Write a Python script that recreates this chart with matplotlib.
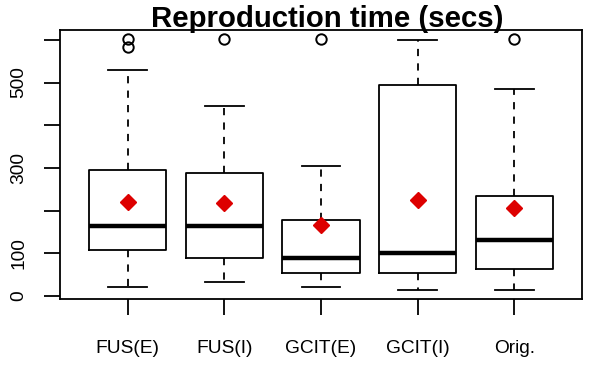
import matplotlib
matplotlib.use("Agg")
import matplotlib.pyplot as plt

plt.rcParams['font.family'] = ['Liberation Sans', 'DejaVu Sans']

categories = ["FUS(E)", "FUS(I)", "GCIT(E)", "GCIT(I)", "Orig."]
whisker_low = [22, 32, 20, 15, 15]
q1 = [108, 90, 53, 53, 63]
medians = [165, 165, 88, 100, 130]
q3 = [295, 287, 177, 495, 234]
whisker_high = [530, 444, 305, 600, 484]
means = [221, 217, 166, 224, 207]
outliers = [[601, 584], [601], [601], [], [601]]
yticks = [0, 100, 200, 300, 400, 500, 600]
ytick_labels = ["0", "100", "", "300", "", "500", ""]

stats = []
for i, name in enumerate(categories):
    stats.append(dict(label=name, whislo=whisker_low[i], q1=q1[i], med=medians[i],
                      q3=q3[i], whishi=whisker_high[i], fliers=outliers[i]))

fig = plt.figure(figsize=(6, 3.75), dpi=100)
ax = fig.add_axes([0.1, 0.2027, 0.87, 0.7173])

lw = 1.3
ax.bxp(stats, positions=range(1, 6), widths=0.8, showmeans=False,
       patch_artist=False,
       boxprops=dict(color='black', linewidth=lw),
       whiskerprops=dict(color='black', linewidth=lw, linestyle=(0, (4, 4))),
       capprops=dict(color='black', linewidth=lw),
       capwidths=0.4,
       medianprops=dict(color='black', linewidth=3.2, solid_capstyle='butt'),
       flierprops=dict(marker='o', markerfacecolor='none', markeredgecolor='black',
                       markersize=7.5, markeredgewidth=1.4))

ax.plot(range(1, 6), means, linestyle='none', marker='D', markersize=8,
        color='#DD0000', markeredgecolor='#DD0000')

ax.set_xlim(0.3, 5.7)
ax.set_ylim(-7, 623)
ax.set_yticks(yticks)
ax.set_yticklabels(ytick_labels, rotation=90, va='center')
ax.set_xticks(range(1, 6))
ax.set_xticklabels(categories)
ax.tick_params(axis='both', length=11.5, width=lw, labelsize=13.8, color='black')
ax.tick_params(axis='y', pad=12)
ax.tick_params(axis='x', pad=18)
for s in ax.spines.values():
    s.set_linewidth(lw)

fig.text(0.545, 1 - 27 / 375, "Reproduction time (secs)", ha='center', va='baseline',
         fontsize=21.2, fontweight='bold')

fig.savefig("out.png", dpi=100)
